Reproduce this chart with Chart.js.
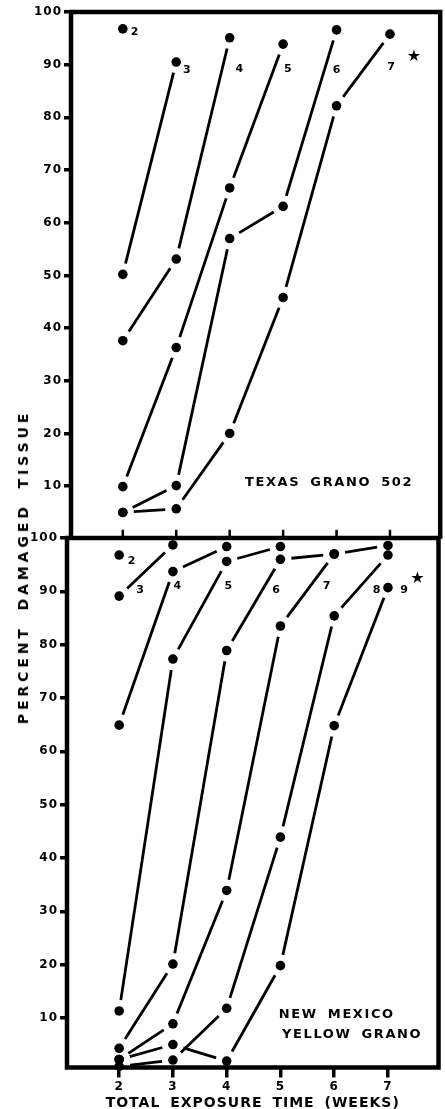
<!DOCTYPE html>
<html>
<head>
<meta charset="utf-8">
<script src="https://cdn.jsdelivr.net/npm/chart.js@4.4.1/dist/chart.umd.min.js"></script>
<style>
  html, body { margin: 0; padding: 0; background: #fff; overflow: hidden; }
  body { width: 445px; height: 1109px; position: relative; }
  canvas { position: absolute; left: 0; }
  #topChart { top: 0; }
  #botChart { top: 520px; }
  #yTitle {
    position: absolute; left: 23px; top: 567px;
    transform: translate(-50%, -50%) rotate(-90deg);
    font: bold 14px "DejaVu Sans", sans-serif; letter-spacing: 3.9px; word-spacing: 6px;
    white-space: nowrap; color: #000;
  }
</style>
</head>
<body>
<canvas id="topChart" width="445" height="548"></canvas>
<canvas id="botChart" width="445" height="600"></canvas>
<div id="yTitle">PERCENT DAMAGED TISSUE</div>
<script>
// ── data (percent damaged tissue, values start at week 2) ──
const weeks = [2, 3, 4, 5, 6, 7];
const yTicks = [10, 20, 30, 40, 50, 60, 70, 80, 90, 100];

// Texas Grano 502
const tx2 = [96.8];
const tx3 = [50.2, 90.5];
const tx4 = [37.6, 53.1, 95.1];
const tx5 = [9.9, 36.3, 66.6, 93.9];
const tx6 = [5.0, 10.1, 57.0, 63.1, 96.6];
const tx7 = [5.0, 5.7, 20.0, 45.8, 82.2, 95.8];

// New Mexico Yellow Grano
const nm2 = [96.8];
const nm3 = [89.1, 98.7];
const nm4 = [64.9, 93.7, 98.4];
const nm5 = [11.3, 77.3, 95.6, 98.4];
const nm6 = [4.3, 20.1, 78.9, 96.0, 97.0];
const nm7 = [2.2, 8.9, 33.9, 83.5, 97.0, 98.6];
const nm8 = [0.9, 2.1, 11.8, 43.9, 85.4, 96.8];
const nm9 = [2.2, 5.0, 1.9, 19.8, 64.8, 90.7];

// curve labels, placed in data units
const txNames = ['2', '3', '4', '5', '6', '7', '\u2605'];
const txNameX = [2.22, 3.20, 4.18, 5.09, 6.00, 7.02, 7.45];
const txNameY = [96.2, 88.9, 89.2, 89.2, 88.9, 89.5, 91.4];
const nmNames = ['2', '3', '4', '5', '6', '7', '8', '9', '\u2605'];
const nmNameX = [2.23, 2.39, 3.08, 4.03, 4.92, 5.86, 6.79, 7.30, 7.55];
const nmNameY = [95.6, 90.3, 90.9, 90.9, 90.3, 90.9, 90.3, 90.3, 92.4];

const FONT = '"DejaVu Sans", "Liberation Sans", sans-serif';
const INK = '#000';
const GAP = 11; // blank space left between a line end and its dot centre

Chart.defaults.font.family = FONT;
Chart.defaults.color = INK;

function curve(vals) { return vals.map((v, i) => ({ x: weeks[i], y: v })); }

// each segment: blank, line, blank -> lines stop short of the dots
function gapDash(ctx) {
  const { x, y } = ctx.chart.scales;
  const d = ctx.chart.data.datasets[ctx.datasetIndex].data;
  const a = d[ctx.p0DataIndex], b = d[ctx.p1DataIndex];
  const L = Math.hypot(x.getPixelForValue(b.x) - x.getPixelForValue(a.x),
                       y.getPixelForValue(b.y) - y.getPixelForValue(a.y));
  if (!isFinite(L)) return [];
  return [0, GAP, Math.max(L - 2 * GAP, 0), L + 50];
}

function makeDatasets(list) {
  return list.map(vals => ({
    data: curve(vals),
    borderColor: INK, backgroundColor: INK, borderWidth: 2.8, borderCapStyle: 'butt',
    pointRadius: 4.8, pointBorderWidth: 0, pointBackgroundColor: INK,
    tension: 0, fill: false, clip: false,
    segment: { borderDash: gapDash }
  }));
}

function names(text, xs, ys) {
  return text.map((t, i) => ({ text: t, x: xs[i], y: ys[i], size: t === '\u2605' ? 16 : 11, ls: 0 }));
}

// ── plugins ──
const framePlugin = {
  id: 'frame',
  afterDatasetsDraw(chart, args, opts) {
    const { ctx, chartArea: a, scales: { x } } = chart;
    ctx.save();
    ctx.setLineDash([]);
    ctx.strokeStyle = INK; ctx.lineWidth = 4.5; ctx.lineJoin = 'miter';
    ctx.beginPath();
    if (opts.open) {
      ctx.moveTo(a.left, a.bottom); ctx.lineTo(a.left, a.top);
      ctx.lineTo(a.right, a.top); ctx.lineTo(a.right, a.bottom);
    } else {
      ctx.rect(a.left, a.top, a.right - a.left, a.bottom - a.top);
    }
    ctx.stroke();
    // short upward ticks on the divider at each week
    if (opts.innerTicks) {
      ctx.lineWidth = 2.5; ctx.beginPath();
      x.ticks.forEach(t => {
        const px = x.getPixelForValue(t.value);
        ctx.moveTo(px, a.bottom); ctx.lineTo(px, a.bottom - opts.innerTicks);
      });
      ctx.stroke();
    }
    ctx.restore();
  }
};

const spacingPlugin = {
  id: 'spacing',
  beforeDraw(chart) { chart.ctx.letterSpacing = '1px'; chart.ctx.wordSpacing = '4px'; }
};

const notesPlugin = {
  id: 'notes',
  afterDraw(chart, args, opts) {
    const { ctx, scales: { x, y } } = chart;
    (opts.items || []).forEach(n => {
      ctx.save();
      ctx.font = `bold ${n.size}px ${FONT}`;
      ctx.letterSpacing = n.ls + 'px';
      ctx.wordSpacing = (n.ws || 0) + 'px';
      ctx.fillStyle = INK;
      ctx.textAlign = n.align || 'center';
      ctx.textBaseline = 'middle';
      ctx.fillText(n.text, x.getPixelForValue(n.x), y.getPixelForValue(n.y));
      ctx.restore();
    });
  }
};

function yScale(min, width) {
  return {
    type: 'linear', min: min, max: 100,
    afterBuildTicks: s => { s.ticks = yTicks.map(v => ({ value: v })); },
    afterFit: s => { s.width = width; },
    ticks: { font: { size: 12, weight: 'bold' }, color: INK, padding: 2 },
    grid: { drawOnChartArea: false, drawTicks: true, tickLength: 7, lineWidth: 3.5, tickWidth: 3.5, tickColor: INK },
    border: { display: false }
  };
}

const baseOpts = {
  responsive: false, animation: false, events: [],
  plugins: { legend: { display: false }, tooltip: { enabled: false } }
};

// ── top panel: Texas Grano 502 ──
new Chart(document.getElementById('topChart'), {
  type: 'line',
  data: { datasets: makeDatasets([tx2, tx3, tx4, tx5, tx6, tx7]) },
  options: {
    ...baseOpts,
    layout: { padding: { top: 12, right: 3.5, bottom: 7.5, left: 0 } },
    scales: {
      x: {
        type: 'linear', min: 1.03, max: 7.94,
        afterBuildTicks: s => { s.ticks = weeks.map(v => ({ value: v })); },
        afterFit: s => { s.height = 0; },
        ticks: { display: false },
        grid: { display: false },
        border: { display: false }
      },
      y: yScale(0, 71)
    },
    plugins: {
      ...baseOpts.plugins,
      frame: { open: true, innerTicks: 9 },
      notes: { items: names(txNames, txNameX, txNameY).concat([
        { text: 'TEXAS GRANO 502', x: 5.86, y: 10.7, size: 13, ls: 1.6, ws: 4 }
      ]) }
    }
  },
  plugins: [spacingPlugin, framePlugin, notesPlugin]
});

// ── bottom panel: New Mexico Yellow Grano ──
new Chart(document.getElementById('botChart'), {
  type: 'line',
  data: { datasets: makeDatasets([nm2, nm3, nm4, nm5, nm6, nm7, nm8, nm9]) },
  options: {
    ...baseOpts,
    layout: { padding: { top: 18, right: 6.5, bottom: 0, left: 0 } },
    scales: {
      x: {
        type: 'linear', min: 1.03, max: 7.94,
        afterBuildTicks: s => { s.ticks = weeks.map(v => ({ value: v })); },
        afterFit: s => { s.height = 52.5; },
        ticks: { font: { size: 12, weight: 'bold' }, color: INK, padding: 2 },
        grid: { drawOnChartArea: false, drawTicks: true, tickLength: 10, lineWidth: 3.5, tickWidth: 3.5, tickColor: INK },
        border: { display: false },
        title: {
          display: true, text: 'TOTAL EXPOSURE TIME (WEEKS)', color: INK,
          font: { size: 14, weight: 'bold' }, padding: { top: 0, bottom: 8.6 }
        }
      },
      y: yScale(0.7, 67)
    },
    plugins: {
      ...baseOpts.plugins,
      frame: { open: false },
      notes: { items: names(nmNames, nmNameX, nmNameY).concat([
        { text: 'NEW MEXICO', x: 4.97, y: 10.7, size: 13, ls: 1.6, ws: 4, align: 'left' },
        { text: 'YELLOW GRANO', x: 5.03, y: 6.8, size: 13, ls: 1.6, ws: 4, align: 'left' }
      ]) }
    }
  },
  plugins: [spacingPlugin, framePlugin, notesPlugin]
});
</script>
</body>
</html>
